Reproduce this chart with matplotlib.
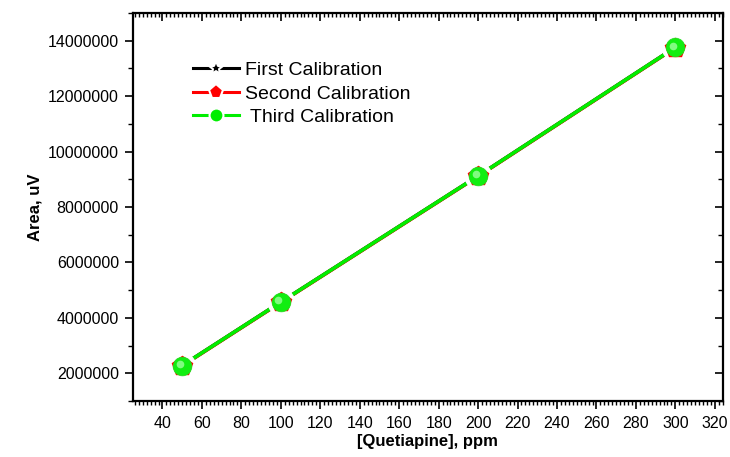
import matplotlib.pyplot as plt
from matplotlib.ticker import MultipleLocator

plt.rcParams['font.family'] = ['Liberation Sans', 'DejaVu Sans']

# calibration data
conc = [50, 100, 200, 300]
first_cal = [2280000, 4570000, 9120000, 13760000]
second_cal = [2270000, 4560000, 9110000, 13750000]
third_cal = [2280000, 4570000, 9120000, 13760000]

fig = plt.figure(figsize=(7.3, 4.57), dpi=100)
ax = fig.add_axes([0.182, 0.1225, 0.808, 0.849])

# lines first, then a white halo so the line breaks around each point
ax.plot(conc, first_cal, '-', color='black', lw=2.6, zorder=2)
ax.plot(conc, second_cal, '-', color='red', lw=2.6, zorder=2)
ax.plot(conc, third_cal, '-', color='#00ee00', lw=2.6, zorder=2)
ax.plot(conc, third_cal, 'o', color='white', ms=19, mec='white', zorder=3)

ax.plot(conc, first_cal, '*', color='black', ms=12, mec='black', zorder=4)
ax.plot(conc, second_cal, 'p', color='red', ms=15, mec='red', zorder=5)
ax.plot(conc, third_cal, 'o', color='#11ee11', ms=13.5, mec='#22dd22', mew=0.5, zorder=6)
# soft highlight on the spheres
ax.plot([c - 1.2 for c in conc], [v + 60000 for v in third_cal], 'o',
        color='#9dff9d', ms=5.5, mec='none', alpha=0.8, zorder=7)

# legend handles only
ax.plot([], [], '-*', color='black', lw=2.2, ms=10, mec='white', mew=1.5,
        label='First Calibration')
ax.plot([], [], '-p', color='red', lw=2.2, ms=11, mec='white', mew=1.5,
        label='Second Calibration')
ax.plot([], [], '-o', color='#00ee00', lw=2.2, ms=10, mec='white', mew=1.5,
        label=' Third Calibration')
leg = ax.legend(loc='upper left', bbox_to_anchor=(0.088, 0.895), frameon=False,
                fontsize=14, handlelength=2.4, handletextpad=0.3,
                labelspacing=0.3, borderaxespad=0)

ax.set_xlim(25, 324)
ax.set_ylim(1000000, 15000000)
ax.xaxis.set_major_locator(MultipleLocator(20))
ax.xaxis.set_minor_locator(MultipleLocator(2))
ax.yaxis.set_major_locator(MultipleLocator(2000000))
ax.yaxis.set_minor_locator(MultipleLocator(1000000))
ax.ticklabel_format(axis='y', style='plain', useOffset=False)

ax.tick_params(axis='x', which='major', direction='out', length=6, width=1.2,
               labelsize=11.5, pad=5, top=True)
ax.tick_params(axis='x', which='minor', direction='out', length=3, width=1, top=True)
ax.tick_params(axis='y', which='major', direction='out', length=6, width=1.2,
               labelsize=11.5, pad=4, right=True)
ax.tick_params(axis='y', which='minor', direction='out', length=3.5, width=1, right=True)
# top and right ticks point inward
for t in ax.xaxis.get_major_ticks() + ax.xaxis.get_minor_ticks():
    t.tick2line.set_marker(3)
for t in ax.yaxis.get_major_ticks() + ax.yaxis.get_minor_ticks():
    t.tick2line.set_marker(0)
for s in ax.spines.values():
    s.set_linewidth(1.6)

ax.set_xlabel('[Quetiapine], ppm', fontsize=12, fontweight='bold', labelpad=2)
ax.set_ylabel('Area, uV', fontsize=12, fontweight='bold', labelpad=4)

fig.savefig('out.png', dpi=100)
